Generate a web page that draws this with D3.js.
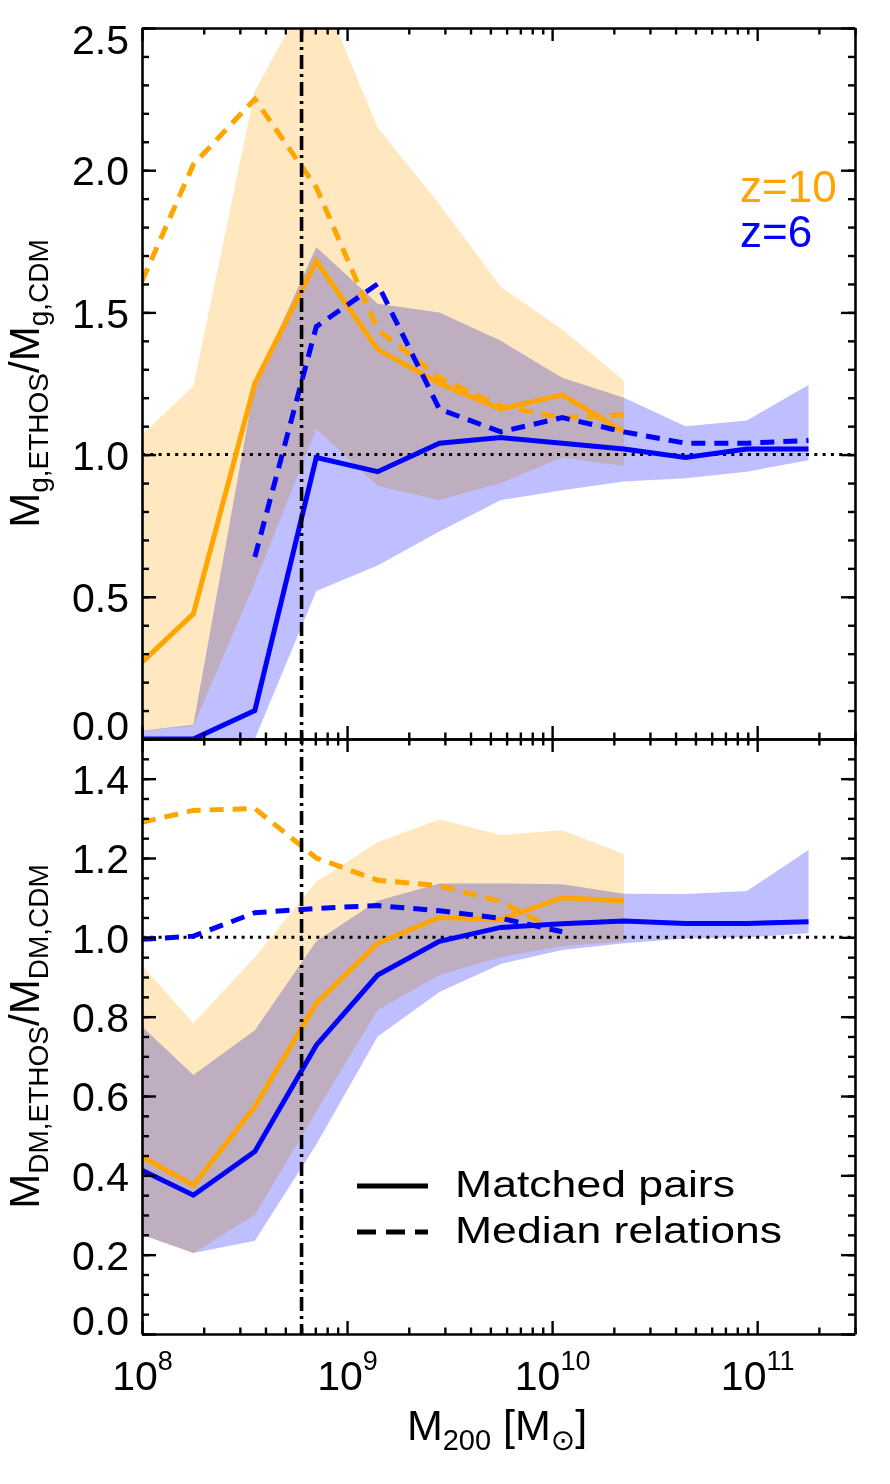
<!DOCTYPE html>
<html>
<head>
<meta charset="utf-8">
<script src="https://cdn.jsdelivr.net/npm/d3@7"></script>
<style>
body { margin: 0; background: #fff; }
svg { display: block; }
</style>
</head>
<body>
<div class="ratioChart"></div>
<script>
const WIDTH = 890;
const HEIGHT = 1484;
const LEFT = 142;
const RIGHT = 855;
const TOP = 28;
const SPLIT = 739;
const BOTTOM = 1334;
const FONT = '"Liberation Sans", Arial, Helvetica, sans-serif';

const ORANGE = '#FFA500';
const BLUE = '#0000FF';
const ORANGE_BAND = '#FFE8BF';
const BLUE_BAND = '#BFBFFF';

// halo mass bins, M200 [Msun]
var massBins = [1.00e8, 1.78e8, 3.55e8, 7.08e8, 1.41e9, 2.82e9, 5.62e9, 1.12e10, 2.24e10, 4.47e10, 8.91e10, 1.78e11];

// top panel: gas mass ratio ETHOS / CDM
var gasMatchedZ10 = [0.27, 0.44, 1.25, 1.68, 1.37, 1.25, 1.16, 1.21, 1.08];
var gasMedianZ10 = [1.61, 2.02, 2.25, 1.94, 1.44, 1.27, 1.17, 1.13, 1.14];
var gasLowZ10 = [0.03, 0.045, 0.55, 1.09, 0.89, 0.84, 0.90, 0.99, 0.96];
var gasHighZ10 = [1.07, 1.24, 2.28, 2.67, 2.15, 1.88, 1.59, 1.44, 1.26];
var gasMatchedZ6 = [0.0, 0.0, 0.10, 0.99, 0.94, 1.04, 1.06, 1.04, 1.02, 0.99, 1.02, 1.02];
var gasMedianZ6 = [null, null, 0.64, 1.45, 1.60, 1.16, 1.08, 1.13, 1.08, 1.04, 1.04, 1.05];
var gasLowZ6 = [0.0, 0.0, 0.0, 0.52, 0.61, 0.73, 0.84, 0.875, 0.905, 0.917, 0.94, 0.98];
var gasHighZ6 = [0.03, 0.05, 1.25, 1.73, 1.53, 1.50, 1.40, 1.27, 1.20, 1.10, 1.12, 1.245];

// bottom panel: dark matter mass ratio ETHOS / CDM
var dmMatchedZ10 = [0.447, 0.375, 0.573, 0.834, 0.985, 1.05, 1.045, 1.10, 1.092];
var dmMedianZ10 = [1.29, 1.32, 1.325, 1.20, 1.144, 1.13, 1.09, 1.01];
var dmLowZ10 = [0.25, 0.204, 0.30, 0.56, 0.817, 0.905, 0.95, 0.978, 0.99];
var dmHighZ10 = [0.93, 0.783, 0.95, 1.14, 1.24, 1.297, 1.258, 1.27, 1.21];
var dmMatchedZ6 = [0.413, 0.35, 0.46, 0.728, 0.905, 0.99, 1.025, 1.034, 1.041, 1.035, 1.035, 1.039];
var dmMedianZ6 = [0.995, 1.003, 1.062, 1.073, 1.08, 1.067, 1.048, 1.014];
var dmLowZ6 = [0.25, 0.204, 0.235, 0.478, 0.75, 0.862, 0.933, 0.968, 0.985, 0.997, 1.0, 1.01];
var dmHighZ6 = [0.775, 0.653, 0.766, 0.99, 1.092, 1.136, 1.136, 1.134, 1.11, 1.109, 1.117, 1.22];

// reference lines
var cutoffMass = 6.0e8;
var unityRatio = 1.0;

// ticks and labels
var massTicks = [1e8, 1e9, 1e10, 1e11];
var massExponents = ['8', '9', '10', '11'];
var gasTicks = [0, 0.5, 1.0, 1.5, 2.0, 2.5];
var dmTicks = [0, 0.2, 0.4, 0.6, 0.8, 1.0, 1.2, 1.4];
var redshiftLabels = ['z=10', 'z=6'];
var legendLabels = ['Matched pairs', 'Median relations'];

var xScale = d3.scaleLog().domain([1e8, 3e11]).range([LEFT, RIGHT]);
var yGas = d3.scaleLinear().domain([0, 2.5]).range([SPLIT, TOP]);
var yDm = d3.scaleLinear().domain([0, 1.5]).range([BOTTOM, SPLIT]);

var minorMass = [];
[8, 9, 10, 11].forEach(function (e) {
    for (var k = 2; k <= 9; k++) {
        var m = k * Math.pow(10, e);
        if (m <= 3e11) minorMass.push(m);
    }
});

function setupSvg() {
    var svg = d3.select('.ratioChart').append('svg')
        .attr('width', WIDTH)
        .attr('height', HEIGHT)
        .style('font-family', FONT);
    svg.append('rect').attr('width', WIDTH).attr('height', HEIGHT).attr('fill', '#fff');
    return svg;
}

function bandData(low, high) {
    return low.map(function (v, i) {
        return {m: massBins[i], lo: v, hi: high[i]};
    });
}

function lineData(vals) {
    return vals.map(function (v, i) {
        return {m: massBins[i], v: v};
    });
}

function styleAxis(g, fontSize) {
    g.attr('font-family', FONT).attr('font-size', fontSize || 41);
    g.select('.domain').attr('stroke', '#000').attr('stroke-width', 2.6);
    g.selectAll('.tick line').attr('stroke', '#000').attr('stroke-width', 2.4);
    g.selectAll('.tick text').attr('fill', '#000');
    return g;
}

function drawPanel(svg, yScale, id, bands, lines) {
    var top = yScale.range()[1], bottom = yScale.range()[0];
    svg.append('clipPath').attr('id', id)
        .append('rect')
        .attr('x', LEFT).attr('y', top)
        .attr('width', RIGHT - LEFT).attr('height', bottom - top);

    var g = svg.append('g').attr('clip-path', 'url(#' + id + ')');

    var area = d3.area()
        .x(function (d) { return xScale(d.m); })
        .y0(function (d) { return yScale(d.lo); })
        .y1(function (d) { return yScale(d.hi); });

    var bandG = g.append('g').style('isolation', 'isolate');
    bands.forEach(function (band) {
        bandG.append('path')
            .datum(bandData(band.low, band.high))
            .attr('d', area)
            .attr('fill', band.color)
            .style('mix-blend-mode', 'multiply');
    });

    g.append('line')
        .attr('x1', LEFT).attr('x2', RIGHT)
        .attr('y1', yScale(unityRatio)).attr('y2', yScale(unityRatio))
        .attr('stroke', '#000')
        .attr('stroke-width', 3)
        .attr('stroke-dasharray', '3,5.3');

    var line = d3.line()
        .defined(function (d) { return d.v !== null; })
        .x(function (d) { return xScale(d.m); })
        .y(function (d) { return yScale(d.v); });

    lines.forEach(function (l) {
        g.append('path')
            .attr('d', line(lineData(l.values)))
            .attr('fill', 'none')
            .attr('stroke', l.color)
            .attr('stroke-width', 5)
            .attr('stroke-linejoin', 'miter')
            .attr('stroke-dasharray', l.dashed ? '14,9' : null);
    });
}

function drawYAxes(svg, yScale, ticks, minorStep, labelShift) {
    var top = yScale.range()[1], bottom = yScale.range()[0];
    var dom = yScale.domain();
    var minor = d3.range(Math.round((dom[1] - dom[0]) / minorStep) + 1).map(function (i) {
        return dom[0] + i * minorStep;
    });

    var left = svg.append('g').attr('transform', 'translate(' + LEFT + ',0)')
        .call(d3.axisLeft(yScale).tickValues(ticks).tickSize(-14).tickSizeOuter(0)
            .tickPadding(13).tickFormat(d3.format('.1f')));
    styleAxis(left);
    left.selectAll('.tick text').attr('dy', '0.36em').attr('transform', function (d) {
        var y = yScale(d);
        var target = Math.min(Math.max(y, top + labelShift[0]), bottom - labelShift[1]);
        return 'translate(0,' + (target - y) + ')';
    });
    var leftMinor = svg.append('g').attr('transform', 'translate(' + LEFT + ',0)')
        .call(d3.axisLeft(yScale).tickValues(minor).tickSize(-7).tickFormat(''));
    styleAxis(leftMinor).select('.domain').remove();

    var right = svg.append('g').attr('transform', 'translate(' + RIGHT + ',0)')
        .call(d3.axisRight(yScale).tickValues(ticks).tickSize(-14).tickSizeOuter(0).tickFormat(''));
    styleAxis(right);
    var rightMinor = svg.append('g').attr('transform', 'translate(' + RIGHT + ',0)')
        .call(d3.axisRight(yScale).tickValues(minor).tickSize(-7).tickFormat(''));
    styleAxis(rightMinor).select('.domain').remove();
}

function drawXAxes(svg) {
    // [y position, axis generator, labelled]
    var rows = [
        [TOP, d3.axisTop, false],
        [SPLIT, d3.axisBottom, false],
        [SPLIT, d3.axisTop, false],
        [BOTTOM, d3.axisBottom, true]
    ];
    rows.forEach(function (r) {
        var major = svg.append('g').attr('transform', 'translate(0,' + r[0] + ')')
            .call(r[1](xScale).tickValues(massTicks).tickSize(-13).tickSizeOuter(0).tickFormat(''));
        styleAxis(major);
        var minor = svg.append('g').attr('transform', 'translate(0,' + r[0] + ')')
            .call(r[1](xScale).tickValues(minorMass).tickSize(-6.5).tickFormat(''));
        styleAxis(minor).select('.domain').remove();

        if (r[2]) {
            major.selectAll('.tick text').each(function (d, i) {
                var t = d3.select(this);
                t.text(null).attr('y', 56).attr('dy', null).attr('text-anchor', 'middle');
                t.append('tspan').text('10');
                t.append('tspan').attr('dy', -20).attr('font-size', 27).text(massExponents[i]);
            });
        }
    });
}

function drawTitles(svg) {
    var xt = svg.append('text')
        .attr('x', 497).attr('y', 1440)
        .attr('text-anchor', 'middle')
        .attr('font-size', 43);
    xt.append('tspan').text('M');
    xt.append('tspan').attr('font-size', 29).attr('dy', 10).text('200');
    xt.append('tspan').attr('dy', -10).text(' [M');
    xt.append('tspan').attr('font-size', 29).attr('dy', 10)
        .attr('font-family', '"DejaVu Sans", sans-serif').text('\u2299');
    xt.append('tspan').attr('dy', -10).text(']');

    var yTitles = [
        [(TOP + SPLIT) / 2, 'g,ETHOS', 'g,CDM'],
        [(SPLIT + BOTTOM) / 2, 'DM,ETHOS', 'DM,CDM']
    ];
    yTitles.forEach(function (t) {
        var txt = svg.append('text')
            .attr('transform', 'translate(39,' + t[0] + ') rotate(-90)')
            .attr('text-anchor', 'middle')
            .attr('font-size', 42);
        txt.append('tspan').text('M');
        txt.append('tspan').attr('font-size', 28).attr('dy', 9).text(t[1]);
        txt.append('tspan').attr('dy', -9).text('/M');
        txt.append('tspan').attr('font-size', 28).attr('dy', 9).text(t[2]);
    });
}

function drawLegends(svg) {
    svg.selectAll('.zLabel').data(redshiftLabels).enter().append('text')
        .attr('class', 'zLabel')
        .attr('x', 740)
        .attr('y', function (d, i) { return 202 + i * 45; })
        .attr('font-size', 44)
        .attr('fill', function (d, i) { return i === 0 ? ORANGE : BLUE; })
        .text(function (d) { return d; });

    var leg = svg.append('g');
    legendLabels.forEach(function (label, i) {
        var y = 1186 + i * 46;
        leg.append('line')
            .attr('x1', 357).attr('x2', 428)
            .attr('y1', y).attr('y2', y)
            .attr('stroke', '#000')
            .attr('stroke-width', 5)
            .attr('stroke-dasharray', i === 1 ? '19,10' : null);
        leg.append('text')
            .attr('x', 455).attr('y', y + 11)
            .attr('font-size', 36)
            .attr('textLength', i === 0 ? 280 : 327)
            .attr('lengthAdjust', 'spacingAndGlyphs')
            .text(label);
    });
}

var svg = setupSvg();

drawPanel(svg, yGas, 'clipGas', [
    {low: gasLowZ10, high: gasHighZ10, color: ORANGE_BAND},
    {low: gasLowZ6, high: gasHighZ6, color: BLUE_BAND}
], [
    {values: gasMatchedZ10, color: ORANGE, dashed: false},
    {values: gasMedianZ10, color: ORANGE, dashed: true},
    {values: gasMatchedZ6, color: BLUE, dashed: false},
    {values: gasMedianZ6, color: BLUE, dashed: true}
]);

drawPanel(svg, yDm, 'clipDm', [
    {low: dmLowZ10, high: dmHighZ10, color: ORANGE_BAND},
    {low: dmLowZ6, high: dmHighZ6, color: BLUE_BAND}
], [
    {values: dmMatchedZ10, color: ORANGE, dashed: false},
    {values: dmMedianZ10, color: ORANGE, dashed: true},
    {values: dmMatchedZ6, color: BLUE, dashed: false},
    {values: dmMedianZ6, color: BLUE, dashed: true}
]);

// cutoff mass marker across both panels
svg.append('line')
    .attr('x1', xScale(cutoffMass)).attr('x2', xScale(cutoffMass))
    .attr('y1', TOP).attr('y2', BOTTOM)
    .attr('stroke', '#000')
    .attr('stroke-width', 3.6)
    .attr('stroke-dasharray', '14,5,3,5');

drawYAxes(svg, yGas, gasTicks, 0.1, [11, 14]);
drawYAxes(svg, yDm, dmTicks, 0.05, [11, 14]);
drawXAxes(svg);
drawTitles(svg);
drawLegends(svg);
</script>
</body>
</html>
